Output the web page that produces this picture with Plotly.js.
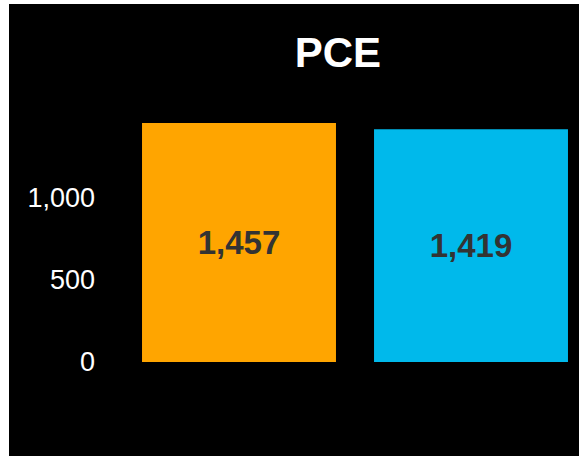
<!DOCTYPE html>
<html>
<head>
<meta charset="utf-8">
<script src="https://cdn.plot.ly/plotly-3.0.1.min.js"></script>
<style>
  html, body { margin: 0; padding: 0; background: #ffffff; width: 579px; height: 456px; overflow: hidden; }
  #chart { position: absolute; left: 9px; top: 4px; width: 570px; height: 452px; }
</style>
</head>
<body>
<div id="chart"></div>
<script>
const categories = ["A", "B"];
const values = [1457, 1419];
const barColors = ["#FFA500", "#00B9EB"];
const tickValues = [0, 500, 1000];
const chartTitle = "PCE";

const trace = {
  type: "bar",
  x: categories,
  y: values,
  width: 0.836,
  marker: { color: barColors },
  texttemplate: "%{y:,}",
  textposition: "inside",
  insidetextanchor: "middle",
  textangle: 0,
  constraintext: "none",
  textfont: { family: "Liberation Sans, Arial, sans-serif", size: 33, color: "#333333", weight: "bold" },
  hoverinfo: "none"
};

const layout = {
  width: 570,
  height: 452,
  paper_bgcolor: "#000000",
  plot_bgcolor: "#000000",
  margin: { l: 114, r: 0, t: 60, b: 94, pad: 0 },
  showlegend: false,
  title: {
    text: "<b>" + chartTitle + "</b>",
    font: { family: "Liberation Sans, Arial, sans-serif", size: 42, color: "#ffffff" },
    x: 0.577, xanchor: "center", xref: "container",
    y: 0.894, yanchor: "middle", yref: "container"
  },
  xaxis: {
    type: "category",
    range: [-0.5, 1.4655],
    showticklabels: false,
    showgrid: false,
    zeroline: false,
    showline: false,
    ticks: ""
  },
  yaxis: {
    range: [0, 1817],
    tickvals: tickValues,
    tickformat: ",",
    tickfont: { family: "Liberation Sans, Arial, sans-serif", size: 27, color: "#ffffff" },
    ticklabelstandoff: 27,
    showgrid: false,
    zeroline: false,
    showline: false,
    ticks: ""
  }
};

Plotly.newPlot("chart", [trace], layout, { staticPlot: true, displayModeBar: false });
</script>
</body>
</html>
